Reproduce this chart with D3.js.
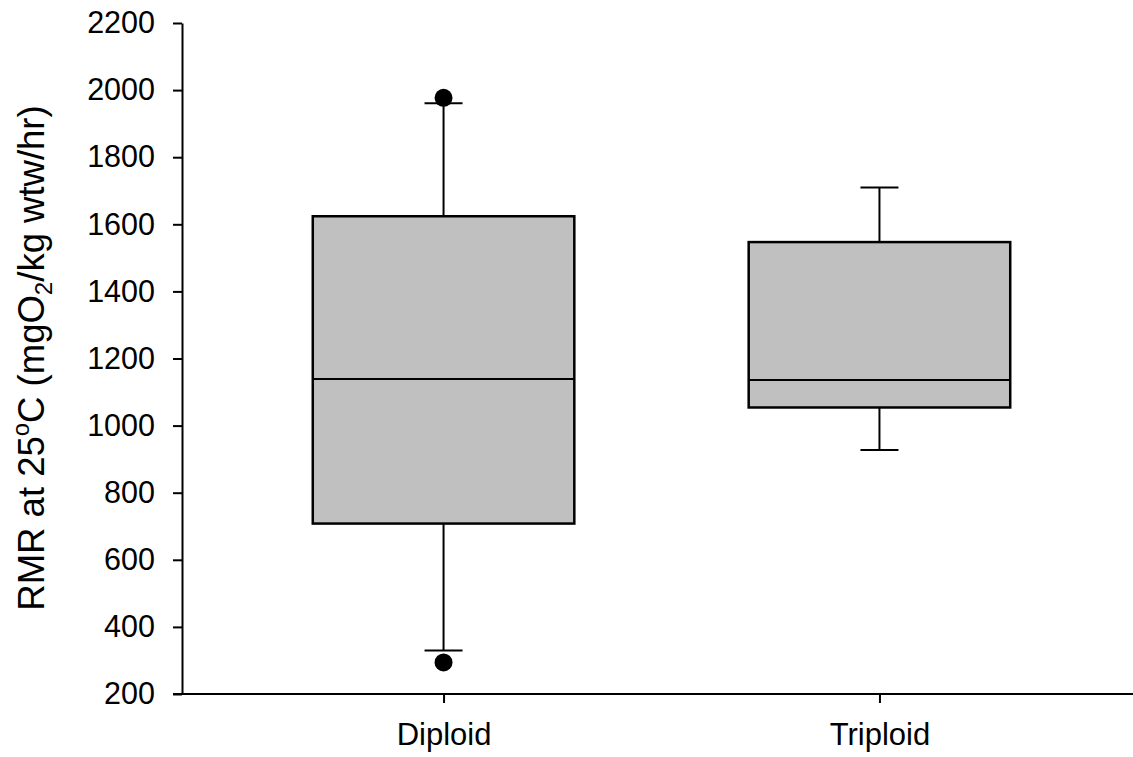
<!DOCTYPE html>
<html>
<head>
<meta charset="utf-8">
<script src="https://cdn.jsdelivr.net/npm/d3@7"></script>
<style>
  body { margin: 0; background: #fff; }
  text { font-family: Arial, "Liberation Sans", sans-serif; fill: #000; }
</style>
</head>
<body>
<div id="chart"></div>
<script>
// box plot summaries
var groups = ['Diploid', 'Triploid'];
var whiskerLow = [330, 927];
var q1 = [708, 1054];
var median = [1139, 1136];
var q3 = [1624, 1547];
var whiskerHigh = [1961, 1710];
var outliers = [[1977, 294], []];
var yTicks = [200, 400, 600, 800, 1000, 1200, 1400, 1600, 1800, 2000, 2200];

var width = 1133, height = 757;
var axisLeft = 182, axisBottom = 694, axisTop = 23;

var svg = d3.select('#chart').append('svg')
  .attr('width', width)
  .attr('height', height);

var x = d3.scalePoint()
  .domain(groups)
  .range([axisLeft, 1141])
  .padding(0.6);

var y = d3.scaleLinear()
  .domain([200, 2200])
  .range([axisBottom, axisTop]);

var boxW = x.step() * 0.6;
var capW = 38;

//y axis
var yAxis = svg.append('g')
  .attr('transform', 'translate(' + axisLeft + ',0)')
  .call(d3.axisLeft(y).tickValues(yTicks).tickFormat(d3.format('d'))
    .tickSize(9).tickPadding(18).tickSizeOuter(0));
yAxis.select('.domain').attr('stroke', '#000').attr('stroke-width', 2);
yAxis.selectAll('.tick line').attr('stroke', '#000').attr('stroke-width', 2);
yAxis.selectAll('.tick text').attr('font-size', 30.5).attr('fill', '#000')
  .style('font-family', 'Arial, "Liberation Sans", sans-serif');

//x axis
var xAxis = svg.append('g')
  .attr('transform', 'translate(0,' + axisBottom + ')')
  .call(d3.axisBottom(x).tickSize(9).tickPadding(20).tickSizeOuter(0));
xAxis.select('.domain').attr('stroke', '#000').attr('stroke-width', 2)
  .attr('d', 'M' + (axisLeft - 9) + ',0H1141');
xAxis.selectAll('.tick line').attr('stroke', '#000').attr('stroke-width', 2);
xAxis.selectAll('.tick text').attr('font-size', 31).attr('fill', '#000')
  .style('font-family', 'Arial, "Liberation Sans", sans-serif');

//y axis title with superscript and subscript
var title = svg.append('text')
  .attr('transform', 'translate(44,358) rotate(-90)')
  .attr('text-anchor', 'middle')
  .attr('font-size', 36.5);
title.append('tspan').text('RMR at 25');
title.append('tspan').attr('font-size', 24).attr('dy', -15).text('o');
title.append('tspan').attr('dy', 15).text('C (mgO');
title.append('tspan').attr('font-size', 24).attr('dy', 8).text('2');
title.append('tspan').attr('dy', -8).text('/kg wtw/hr)');

//boxes
var data = groups.map(function (g, i) {
  return { name: g, lo: whiskerLow[i], q1: q1[i], med: median[i], q3: q3[i], hi: whiskerHigh[i], out: outliers[i] };
});

var box = svg.selectAll('g.box')
  .data(data)
  .enter().append('g')
  .attr('class', 'box')
  .attr('transform', function (d) { return 'translate(' + x(d.name) + ',0)'; });

//whiskers
box.append('line')
  .attr('y1', function (d) { return y(d.q3); })
  .attr('y2', function (d) { return y(d.hi); })
  .attr('stroke', '#000').attr('stroke-width', 2);
box.append('line')
  .attr('y1', function (d) { return y(d.q1); })
  .attr('y2', function (d) { return y(d.lo); })
  .attr('stroke', '#000').attr('stroke-width', 2);
box.append('line')
  .attr('x1', -capW / 2).attr('x2', capW / 2)
  .attr('y1', function (d) { return y(d.hi); })
  .attr('y2', function (d) { return y(d.hi); })
  .attr('stroke', '#000').attr('stroke-width', 2);
box.append('line')
  .attr('x1', -capW / 2).attr('x2', capW / 2)
  .attr('y1', function (d) { return y(d.lo); })
  .attr('y2', function (d) { return y(d.lo); })
  .attr('stroke', '#000').attr('stroke-width', 2);

box.append('rect')
  .attr('x', -boxW / 2)
  .attr('width', boxW)
  .attr('y', function (d) { return y(d.q3); })
  .attr('height', function (d) { return y(d.q1) - y(d.q3); })
  .attr('fill', '#c0c0c0')
  .attr('stroke', '#000')
  .attr('stroke-width', 2.5);

box.append('line')
  .attr('x1', -boxW / 2).attr('x2', boxW / 2)
  .attr('y1', function (d) { return y(d.med); })
  .attr('y2', function (d) { return y(d.med); })
  .attr('stroke', '#000').attr('stroke-width', 2);

//outliers
box.selectAll('circle')
  .data(function (d) { return d.out; })
  .enter().append('circle')
  .attr('cy', function (v) { return y(v); })
  .attr('r', 9)
  .attr('fill', '#000');
</script>
</body>
</html>
